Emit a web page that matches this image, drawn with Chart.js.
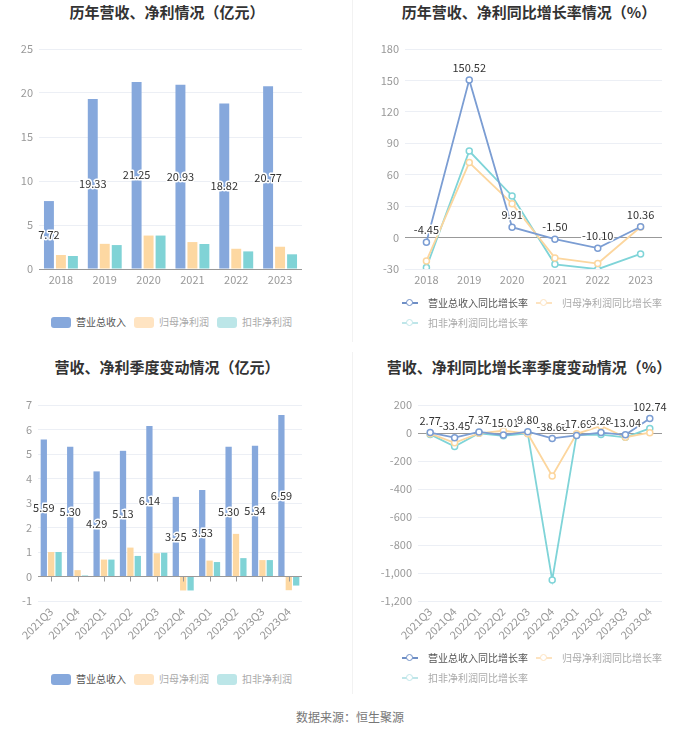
<!DOCTYPE html>
<html>
<head>
<meta charset="utf-8">
<script src="https://cdn.jsdelivr.net/npm/chart.js@4.4.0/dist/chart.umd.min.js"></script>
<style>
  body { margin: 0; background: #fff; font-family: "Noto Sans CJK SC", "Noto Sans", sans-serif; }
  #page { position: relative; width: 700px; height: 734px; overflow: hidden; background: #fff; }
  canvas { position: absolute; }
  .title { position: absolute; width: 350px; text-align: center; font-size: 15px; font-weight: bold; color: #333; line-height: 20px; }
  .divider { position: absolute; left: 352px; width: 1px; background: #f2f2f2; }
  .lg { position: absolute; display: flex; align-items: center; font-size: 10px; height: 14px; line-height: 14px; white-space: nowrap; color: #aaa; }
  .lg .item { display: flex; align-items: center; margin-right: 8px; }
  .lg .item.first { color: #555; }
  .sw { display: inline-block; width: 20px; height: 11px; border-radius: 3px; margin-right: 5px; }
  .ln { display: inline-block; width: 16px; height: 14px; position: relative; margin-right: 10px; }
  .ln::before { content: ''; position: absolute; left: 0; right: 0; top: 6px; height: 1.5px; background: currentColor; }
  .ln::after { content: ''; position: absolute; left: 4px; top: 2.5px; width: 5px; height: 5px; border: 1.5px solid currentColor; border-radius: 50%; background: #fff; }
  .foot { position: absolute; left: 0; width: 700px; top: 709px; text-align: center; font-size: 12px; color: #777; line-height: 16px; }
</style>
</head>
<body>
<div id="page">
  <div class="divider" style="top:0;height:342px"></div>
  <div class="divider" style="top:352px;height:342px"></div>

  <div class="title" style="left:-8px;top:2px">历年营收、净利情况（亿元）</div>
  <div class="title" style="left:354px;top:2px">历年营收、净利同比增长率情况（%）</div>
  <div class="title" style="left:-8px;top:357px">营收、净利季度变动情况（亿元）</div>
  <div class="title" style="left:354px;top:357px">营收、净利同比增长率季度变动情况（%）</div>

  <canvas id="yearBar" width="350" height="260" style="left:0;top:40px"></canvas>
  <canvas id="yearLine" width="350" height="260" style="left:350px;top:40px"></canvas>
  <canvas id="quarterBar" width="350" height="260" style="left:0;top:395px"></canvas>
  <canvas id="quarterLine" width="350" height="260" style="left:350px;top:395px"></canvas>

  <div class="lg" style="left:51px;top:315px">
    <span class="item first"><i class="sw" style="background:#86a8dc"></i>营业总收入</span>
    <span class="item"><i class="sw" style="background:#ffe4c2"></i>归母净利润</span>
    <span class="item"><i class="sw" style="background:#bce6e8"></i>扣非净利润</span>
  </div>
  <div class="lg" style="left:402px;top:296px">
    <span class="item first"><i class="ln" style="color:#6f8fc6"></i>营业总收入同比增长率</span>
    <span class="item"><i class="ln" style="color:#fde3c0"></i>归母净利润同比增长率</span>
  </div>
  <div class="lg" style="left:402px;top:316px">
    <span class="item"><i class="ln" style="color:#bfe6e9"></i>扣非净利润同比增长率</span>
  </div>

  <div class="lg" style="left:51px;top:672px">
    <span class="item first"><i class="sw" style="background:#86a8dc"></i>营业总收入</span>
    <span class="item"><i class="sw" style="background:#ffe4c2"></i>归母净利润</span>
    <span class="item"><i class="sw" style="background:#bce6e8"></i>扣非净利润</span>
  </div>
  <div class="lg" style="left:402px;top:651px">
    <span class="item first"><i class="ln" style="color:#6f8fc6"></i>营业总收入同比增长率</span>
    <span class="item"><i class="ln" style="color:#fde3c0"></i>归母净利润同比增长率</span>
  </div>
  <div class="lg" style="left:402px;top:671px">
    <span class="item"><i class="ln" style="color:#bfe6e9"></i>扣非净利润同比增长率</span>
  </div>

  <div class="foot">数据来源：恒生聚源</div>
</div>

<script>
// yearly data (亿元 / %)
const years = ['2018', '2019', '2020', '2021', '2022', '2023'];
const yearRevenue = [7.72, 19.33, 21.25, 20.93, 18.82, 20.77];
const yearNetProfit = [1.59, 2.86, 3.8, 3.06, 2.3, 2.53];
const yearDeductedProfit = [1.48, 2.72, 3.8, 2.84, 2.0, 1.67];
const yearRevenueGrowth = [-4.45, 150.52, 9.91, -1.50, -10.10, 10.36];
const yearNetGrowth = [-22.3, 71.6, 32.4, -19.4, -24.8, 10.1];
const yearDeductedGrowth = [-28.6, 82.6, 39.7, -25.5, -30.2, -15.6];

// quarterly data
const quarters = ['2021Q3', '2021Q4', '2022Q1', '2022Q2', '2022Q3', '2022Q4', '2023Q1', '2023Q2', '2023Q3', '2023Q4'];
const qRevenue = [5.59, 5.30, 4.29, 5.13, 6.14, 3.25, 3.53, 5.30, 5.34, 6.59];
const qNetProfit = [1.0, 0.26, 0.69, 1.18, 0.95, -0.57, 0.65, 1.74, 0.67, -0.56];
const qDeductedProfit = [1.0, 0.04, 0.69, 0.84, 0.97, -0.57, 0.59, 0.75, 0.67, -0.37];
const qRevenueGrowth = [2.77, -33.45, 7.37, -15.01, 9.80, -38.66, -17.69, 3.28, -13.04, 102.74];
const qNetGrowth = [-5, -70, -2, 16, -5, -307, -6, 50, -30, 2];
const qDeductedGrowth = [-10, -97, -2, -20, -3, -1050, -14, -11, -31, 33];

// axis ticks
const yearAmountTicks = [0, 5, 10, 15, 20, 25];
const yearGrowthTicks = [-30, 0, 30, 60, 90, 120, 150, 180];
const qAmountTicks = [-1, 0, 1, 2, 3, 4, 5, 6, 7];
const qGrowthTicks = [-1200, -1000, -800, -600, -400, -200, 0, 200];

const FONT = '"Noto Sans CJK SC", "Noto Sans", sans-serif';
const colors = {
  rev: '#86a8dc', net: '#fdd8a2', ded: '#80d3d6',
  revLine: '#7b9dd3', netLine: '#fcd69e', dedLine: '#7fd4d8'
};

// Value labels for the first dataset (revenue)
const valueLabels = {
  id: 'valueLabels',
  afterDatasetsDraw(chart, args, opts) {
    const meta = chart.getDatasetMeta(0);
    const values = chart.data.datasets[0].data;
    const ctx = chart.ctx;
    ctx.save();
    ctx.font = '11px ' + FONT;
    ctx.textAlign = 'center';
    ctx.textBaseline = 'middle';
    ctx.lineJoin = 'round';
    ctx.lineWidth = 3;
    ctx.strokeStyle = '#fff';
    ctx.fillStyle = '#333';
    meta.data.forEach((el, i) => {
      const text = values[i].toFixed(2);
      const y = opts.mode === 'mid' ? (el.y + el.base) / 2 : el.y - 12;
      ctx.strokeText(text, el.x, y);
      ctx.fillText(text, el.x, y);
    });
    ctx.restore();
  }
};

// small tick marks on the zero line (quarterly bar chart)
const zeroTicks = {
  id: 'zeroTicks',
  afterDatasetsDraw(chart) {
    const xs = chart.scales.x;
    const y0 = chart.scales.y.getPixelForValue(0);
    const ctx = chart.ctx;
    ctx.save();
    ctx.strokeStyle = '#999';
    ctx.lineWidth = 1;
    xs.ticks.forEach((t, i) => {
      const px = Math.round(xs.getPixelForTick(i)) + 0.5;
      ctx.beginPath();
      ctx.moveTo(px, y0);
      ctx.lineTo(px, y0 + 5);
      ctx.stroke();
    });
    ctx.restore();
  }
};

function gridColor(c) {
  return c.tick && c.tick.value === 0 ? '#999' : '#eceff5';
}

function yScale(ticks, width) {
  return {
    min: ticks[0],
    max: ticks[ticks.length - 1],
    ticks: { stepSize: ticks[1] - ticks[0], color: '#999', font: { size: 11, family: FONT }, padding: 6 },
    grid: { color: gridColor, drawTicks: false },
    border: { display: false },
    afterFit(s) { s.width = width; s.paddingTop = 0; s.paddingBottom = 0; }
  };
}

function xScale(height, rotate, offset) {
  return {
    offset: offset,
    grid: { display: false, drawTicks: false },
    border: { display: false },
    ticks: {
      color: '#999', font: { size: 11, family: FONT }, padding: 4,
      autoSkip: false, minRotation: rotate, maxRotation: rotate
    },
    afterFit(s) { s.height = height; }
  };
}

function barChart(id, labels, rev, net, ded, ticks, opt) {
  const bar = { categoryPercentage: opt.cat, barPercentage: opt.bar };
  return new Chart(document.getElementById(id), {
    type: 'bar',
    data: {
      labels: labels,
      datasets: [
        Object.assign({ label: '营业总收入', data: rev, backgroundColor: colors.rev }, bar),
        Object.assign({ label: '归母净利润', data: net, backgroundColor: colors.net }, bar),
        Object.assign({ label: '扣非净利润', data: ded, backgroundColor: colors.ded }, bar)
      ]
    },
    options: {
      responsive: false,
      animation: false,
      layout: { padding: opt.padding },
      plugins: { legend: { display: false }, tooltip: { enabled: false }, valueLabels: { mode: 'mid' } },
      scales: { x: xScale(opt.xh, opt.rot, true), y: yScale(ticks, opt.yw) }
    },
    plugins: opt.zero ? [valueLabels, zeroTicks] : [valueLabels]
  });
}

function lineSet(label, data, color) {
  return {
    label: label, data: data, borderColor: color, backgroundColor: '#fff',
    pointBackgroundColor: '#fff', pointBorderColor: color,
    pointRadius: 3, pointBorderWidth: 1.5, borderWidth: 1.8, tension: 0
  };
}

function lineChart(id, labels, rev, net, ded, ticks, opt) {
  return new Chart(document.getElementById(id), {
    type: 'line',
    data: {
      labels: labels,
      datasets: [
        lineSet('营业总收入同比增长率', rev, colors.revLine),
        lineSet('归母净利润同比增长率', net, colors.netLine),
        lineSet('扣非净利润同比增长率', ded, colors.dedLine)
      ]
    },
    options: {
      responsive: false,
      animation: false,
      layout: { padding: opt.padding },
      plugins: { legend: { display: false }, tooltip: { enabled: false }, valueLabels: { mode: 'above' } },
      scales: { x: xScale(opt.xh, opt.rot, true), y: yScale(ticks, opt.yw) }
    },
    plugins: [valueLabels]
  });
}

barChart('yearBar', years, yearRevenue, yearNetProfit, yearDeductedProfit, yearAmountTicks,
  { cat: 0.82, bar: 0.83, padding: { top: 9, right: 48, left: 0, bottom: 0 }, xh: 31, yw: 39, rot: 0, zero: false });

lineChart('yearLine', years, yearRevenueGrowth, yearNetGrowth, yearDeductedGrowth, yearGrowthTicks,
  { padding: { top: 9, right: 38, left: 0, bottom: 0 }, xh: 31, yw: 55, rot: 0 });

barChart('quarterBar', quarters, qRevenue, qNetProfit, qDeductedProfit, qAmountTicks,
  { cat: 0.84, bar: 0.85, padding: { top: 10, right: 48, left: 0, bottom: 0 }, xh: 54, yw: 38, rot: 45, zero: true });

lineChart('quarterLine', quarters, qRevenueGrowth, qNetGrowth, qDeductedGrowth, qGrowthTicks,
  { padding: { top: 10, right: 38, left: 0, bottom: 0 }, xh: 54, yw: 68, rot: 45 });
</script>
</body>
</html>
